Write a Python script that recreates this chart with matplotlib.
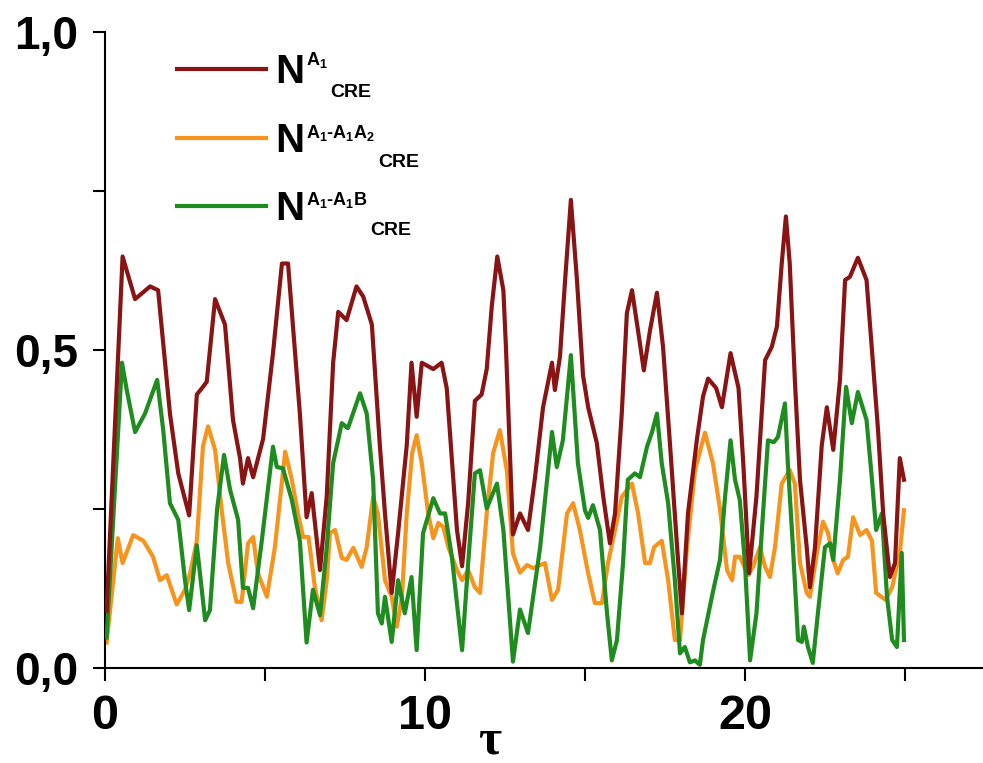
import matplotlib
matplotlib.use("Agg")
import matplotlib.pyplot as plt
from matplotlib.ticker import FixedLocator, FixedFormatter

# ---------------- data ----------------
t_red = [0.05, 0.55, 0.94, 1.41, 1.66, 2.03, 2.29, 2.63, 2.87, 3.03, 3.18, 3.44, 3.75, 4.0, 4.22, 4.31,
         4.47, 4.63, 4.94, 5.25, 5.53, 5.72, 6.09, 6.3, 6.46, 6.72, 6.93, 7.13, 7.29, 7.55, 7.86, 8.07,
         8.34, 8.59, 8.75, 8.96, 9.16, 9.43, 9.58, 9.74, 9.9, 10.26, 10.52, 10.68, 11.0, 11.16, 11.35,
         11.56, 11.77, 11.93, 12.09, 12.26, 12.45, 12.53, 12.75, 12.97, 13.22, 13.44, 13.69, 13.97, 14.06,
         14.22, 14.38, 14.56, 14.75, 14.94, 15.1, 15.37, 15.57, 15.78, 15.94, 16.15, 16.31, 16.47, 16.66,
         16.84, 17.03, 17.25, 17.44, 17.66, 17.88, 18.03, 18.22, 18.5, 18.69, 18.85, 19.1, 19.28, 19.55,
         19.8, 19.95, 20.13, 20.36, 20.63, 20.84, 21.0, 21.15, 21.28, 21.4, 21.56, 21.72, 21.93, 22.03,
         22.19, 22.4, 22.56, 22.76, 22.97, 23.13, 23.28, 23.53, 23.8, 24.0, 24.16, 24.32, 24.53, 24.69,
         24.84, 24.97]
y_red = [0.09, 0.647, 0.58, 0.60, 0.594, 0.40, 0.306, 0.24, 0.43, 0.44, 0.45, 0.58, 0.54, 0.39, 0.33, 0.29,
         0.33, 0.30, 0.36, 0.495, 0.636, 0.636, 0.40, 0.237, 0.275, 0.154, 0.27, 0.48, 0.56, 0.547, 0.60, 0.584,
         0.54, 0.35, 0.243, 0.118, 0.212, 0.35, 0.48, 0.395, 0.48, 0.47, 0.48, 0.44, 0.217, 0.16, 0.26,
         0.42, 0.43, 0.47, 0.57, 0.647, 0.594, 0.505, 0.21, 0.243, 0.217, 0.30, 0.41, 0.48, 0.437,
         0.49, 0.61, 0.736, 0.61, 0.46, 0.41, 0.354, 0.27, 0.196, 0.243, 0.40, 0.558, 0.594, 0.53,
         0.468, 0.53, 0.59, 0.505, 0.35, 0.19, 0.086, 0.243, 0.36, 0.427, 0.455, 0.44, 0.41, 0.495,
         0.44, 0.32, 0.149, 0.27, 0.484, 0.505, 0.537, 0.636, 0.71, 0.636, 0.453, 0.296, 0.19, 0.127,
         0.19, 0.35, 0.41, 0.343, 0.453, 0.61, 0.615, 0.645, 0.61, 0.48, 0.374, 0.243, 0.143, 0.165,
         0.33, 0.296]

t_orange = [0.05, 0.4, 0.55, 0.88, 1.2, 1.5, 1.72, 1.93, 2.24, 2.5, 2.66, 2.87, 3.06, 3.22, 3.44, 3.66,
            3.85, 4.11, 4.27, 4.47, 4.63, 4.78, 5.06, 5.31, 5.63, 5.84, 6.03, 6.19, 6.36, 6.56, 6.77, 6.93,
            7.03, 7.19, 7.4, 7.55, 7.76, 8.02, 8.18, 8.38, 8.53, 8.75, 8.96, 9.12, 9.28, 9.43, 9.6, 9.74,
            9.9, 10.1, 10.26, 10.42, 10.57, 10.73, 11.0, 11.16, 11.35, 11.56, 11.72, 11.93, 12.13, 12.34,
            12.56, 12.75, 12.97, 13.19, 13.38, 13.75, 13.97, 14.16, 14.44, 14.63, 14.84, 15.1, 15.31, 15.53,
            15.72, 15.94, 16.15, 16.47, 16.66, 16.88, 17.03, 17.16, 17.4, 17.6, 17.81, 17.97, 18.19, 18.44,
            18.75, 19.0, 19.22, 19.44, 19.6, 19.69, 19.84, 20.1, 20.25, 20.47, 20.63, 20.78, 20.94, 21.15,
            21.4, 21.56, 21.72, 21.93, 22.03, 22.25, 22.44, 22.6, 22.76, 22.9, 23.07, 23.22, 23.38, 23.6,
            23.8, 23.97, 24.1, 24.4, 24.6, 24.84, 24.97]
y_orange = [0.04, 0.204, 0.165, 0.209, 0.20, 0.175, 0.138, 0.146, 0.10, 0.123, 0.149, 0.20, 0.348, 0.38, 0.343, 0.243,
            0.165, 0.104, 0.104, 0.196, 0.206, 0.149, 0.112, 0.19, 0.34, 0.296, 0.243, 0.206, 0.206, 0.127, 0.075, 0.138,
            0.212, 0.217, 0.173, 0.17, 0.189, 0.159, 0.19, 0.269, 0.243, 0.138, 0.112, 0.065, 0.112, 0.243, 0.338, 0.366,
            0.322, 0.243, 0.204, 0.228, 0.222, 0.19, 0.154, 0.138, 0.154, 0.127, 0.118, 0.243, 0.338, 0.374,
            0.31, 0.18, 0.15, 0.162, 0.157, 0.165, 0.107, 0.123, 0.243, 0.259, 0.217, 0.149, 0.102, 0.102,
            0.165, 0.217, 0.269, 0.29, 0.243, 0.165, 0.165, 0.19, 0.20, 0.138, 0.044, 0.044, 0.19, 0.311,
            0.37, 0.322, 0.25, 0.154, 0.138, 0.175, 0.175, 0.146, 0.159, 0.19, 0.159, 0.143, 0.19, 0.29,
            0.311, 0.29, 0.165, 0.118, 0.112, 0.181, 0.23, 0.212, 0.17, 0.149, 0.17, 0.175, 0.237, 0.209,
            0.217, 0.20, 0.118, 0.107, 0.127, 0.181, 0.248]

t_green = [0.05, 0.53, 0.68, 0.94, 1.25, 1.63, 1.82, 2.03, 2.29, 2.5, 2.63, 2.87, 3.13, 3.28, 3.5, 3.72,
           3.91, 4.16, 4.31, 4.47, 4.63, 4.9, 5.25, 5.37, 5.56, 5.84, 6.09, 6.3, 6.5, 6.72, 6.93, 7.13,
           7.4, 7.59, 7.97, 8.18, 8.38, 8.53, 8.65, 8.75, 8.96, 9.16, 9.37, 9.58, 9.74, 9.94, 10.26, 10.47,
           10.63, 10.84, 11.16, 11.35, 11.56, 11.72, 11.93, 12.25, 12.45, 12.75, 12.97, 13.22, 13.6, 13.97,
           14.12, 14.31, 14.56, 14.78, 15.0, 15.1, 15.25, 15.47, 15.69, 15.84, 16.0, 16.19, 16.34, 16.56,
           16.72, 16.94, 17.09, 17.25, 17.4, 17.6, 17.81, 17.97, 18.12, 18.28, 18.44, 18.59, 18.69, 19.0,
           19.22, 19.38, 19.55, 19.69, 19.84, 20.0, 20.16, 20.36, 20.53, 20.72, 20.9, 21.03, 21.25, 21.34,
           21.5, 21.66, 21.78, 21.84, 21.97, 22.12, 22.28, 22.5, 22.66, 22.76, 22.97, 23.16, 23.34, 23.53,
           23.8, 23.97, 24.1, 24.28, 24.44, 24.6, 24.75, 24.9, 24.97]
y_green = [0.048, 0.48, 0.437, 0.371, 0.40, 0.453, 0.374, 0.259, 0.233, 0.138, 0.091, 0.193, 0.075, 0.091, 0.248, 0.335,
           0.28, 0.233, 0.126, 0.126, 0.094, 0.20, 0.348, 0.316, 0.314, 0.264, 0.20, 0.04, 0.123, 0.083, 0.19, 0.322,
           0.385, 0.377, 0.432, 0.40, 0.296, 0.086, 0.07, 0.112, 0.041, 0.138, 0.086, 0.143, 0.028, 0.212, 0.267, 0.243,
           0.243, 0.175, 0.028, 0.165, 0.306, 0.311, 0.251, 0.29, 0.217, 0.01, 0.092, 0.055, 0.19, 0.371,
           0.316, 0.358, 0.492, 0.322, 0.248, 0.236, 0.256, 0.217, 0.086, 0.012, 0.044, 0.165, 0.296, 0.306,
           0.30, 0.348, 0.37, 0.40, 0.322, 0.259, 0.138, 0.023, 0.033, 0.009, 0.012, 0.005, 0.044, 0.12,
           0.17, 0.27, 0.358, 0.296, 0.264, 0.165, 0.012, 0.086, 0.217, 0.358, 0.355, 0.363, 0.416, 0.322,
           0.19, 0.044, 0.041, 0.065, 0.033, 0.008, 0.086, 0.19, 0.196, 0.17, 0.296, 0.442, 0.385, 0.434,
           0.39, 0.296, 0.217, 0.243, 0.112, 0.044, 0.033, 0.181, 0.044]

x_major = [0, 10, 20]
x_major_labels = ["0", "10", "20"]
x_minor = [5, 15, 25]
y_major = [0.0, 0.5, 1.0]
y_major_labels = ["0,0", "0,5", "1,0"]
y_minor = [0.25, 0.75]

sup_labels = [r"$\mathbf{A_1}$", r"$\mathbf{A_1}$-$\mathbf{A_1A_2}$", r"$\mathbf{A_1}$-$\mathbf{A_1B}$"]
sub_label = "CRE"

# ---------------- style ----------------
plt.rcParams['font.family'] = ['Liberation Sans', 'DejaVu Sans']
plt.rcParams['mathtext.fontset'] = 'custom'
plt.rcParams['mathtext.bf'] = 'Liberation Sans:bold'
plt.rcParams['mathtext.rm'] = 'Liberation Sans'
plt.rcParams['mathtext.it'] = 'Liberation Sans:italic'

c_red = "#8a1414"
c_orange = "#f7941d"
c_green = "#1e8c1e"

W, H = 983, 763
fig = plt.figure(figsize=(W / 100, H / 100), dpi=100)
ax = fig.add_axes([105 / W, 95 / H, 878 / W, 636 / H])

lw = 3.0
l1, = ax.plot(t_red, y_red, color=c_red, lw=lw, solid_joinstyle='round', zorder=4)
l2, = ax.plot(t_orange, y_orange, color=c_orange, lw=lw, solid_joinstyle='round', zorder=2)
l3, = ax.plot(t_green, y_green, color=c_green, lw=lw, solid_joinstyle='round', zorder=3)

ax.set_xlim(0, 27.44)
ax.set_ylim(0, 1.0)

for s in ['top', 'right']:
    ax.spines[s].set_visible(False)
for s in ['left', 'bottom']:
    ax.spines[s].set_linewidth(1.5)

ax.xaxis.set_major_locator(FixedLocator(x_major))
ax.xaxis.set_major_formatter(FixedFormatter(x_major_labels))
ax.xaxis.set_minor_locator(FixedLocator(x_minor))
ax.yaxis.set_major_locator(FixedLocator(y_major))
ax.yaxis.set_major_formatter(FixedFormatter(y_major_labels))
ax.yaxis.set_minor_locator(FixedLocator(y_minor))

ax.tick_params(which='both', direction='out', length=9, width=1.5, color='black')
ax.tick_params(axis='x', which='major', labelsize=35, pad=10)
ax.tick_params(axis='y', which='major', labelsize=33, pad=10)
for lab in ax.get_xticklabels() + ax.get_yticklabels():
    lab.set_fontweight('bold')

ax.set_xlabel("τ", fontsize=36, fontweight='bold', family='Liberation Serif', va='baseline')
ax.xaxis.set_label_coords((490 - 105) / 878, -(753 - 668) / 636)

# legend: line handles + big "N"
leg = ax.legend([l1, l2, l3], ["N", "N", "N"], loc='upper left',
                bbox_to_anchor=((177 - 105) / 878, (668 - 53) / 636),
                frameon=False, borderpad=0, borderaxespad=0,
                handlelength=2.2, handletextpad=0.25, labelspacing=0.76,
                prop={'family': 'Liberation Sans', 'weight': 'bold', 'size': 29})
for h in leg.get_lines():
    h.set_linewidth(3.0)

# superscripts / subscripts placed next to each legend "N"
fig.canvas.draw()
renderer = fig.canvas.get_renderer()
sup_up_px = [18, 14, 15]      # superscript baseline above N baseline
sub_down_px = [14, 15, 15]    # CRE baseline below N baseline
for i, txt in enumerate(leg.get_texts()):
    bb = txt.get_window_extent(renderer)
    _, _, d = renderer.get_text_width_height_descent("lp", txt.get_fontproperties(), ismath=False)
    base = bb.y0 + d
    sup = fig.text((bb.x1 + 1) / W, (base + sup_up_px[i]) / H, sup_labels[i],
                   fontsize=13, fontweight='bold', ha='left', va='baseline')
    fig.canvas.draw()
    sb = sup.get_window_extent(renderer)
    fig.text((sb.x1 + 3) / W, (base - sub_down_px[i]) / H, sub_label,
             fontsize=14, fontweight='bold', ha='left', va='baseline')

fig.savefig("out.png", dpi=100)
